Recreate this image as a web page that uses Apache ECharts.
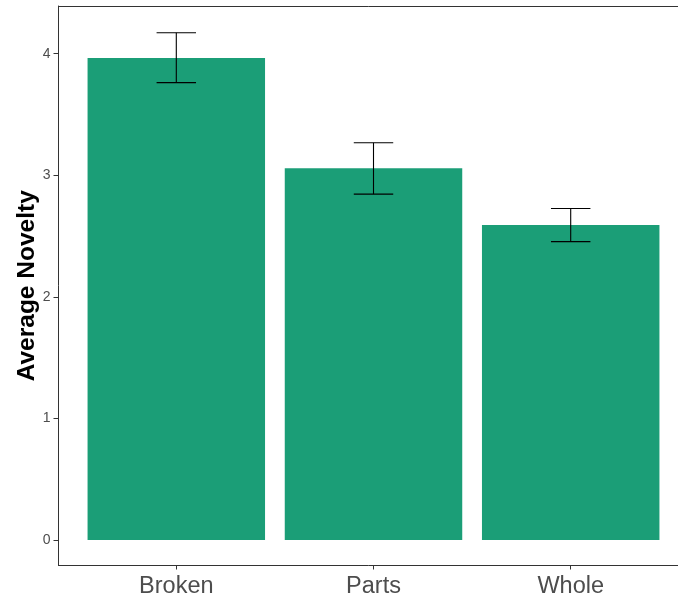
<!DOCTYPE html>
<html>
<head>
<meta charset="utf-8">
<script src="https://cdn.jsdelivr.net/npm/echarts@6/dist/echarts.min.js"></script>
<style>
  html, body { margin: 0; padding: 0; background: #fff; }
  #chart { width: 678px; height: 599px; }
</style>
</head>
<body>
<div id="chart"></div>
<script>
// Groups and their mean novelty scores with error-bar bounds
const categories = ['Broken', 'Parts', 'Whole'];
const meanNovelty = [3.964, 3.057, 2.590];
const lowerBound = [3.762, 2.845, 2.454];
const upperBound = [4.172, 3.267, 2.727];
const yTicks = [0, 1, 2, 3, 4];

const BAR_COLOR = '#1B9E77';
const AXIS_COLOR = '#333333';
const LABEL_COLOR = '#4D4D4D';
const FONT = '"Liberation Sans", Arial, sans-serif';

const errorData = categories.map((c, i) => [i, lowerBound[i], upperBound[i]]);

const chart = echarts.init(document.getElementById('chart'), null, { renderer: 'canvas' });

chart.setOption({
  animation: false,
  backgroundColor: '#ffffff',
  grid: [
    // plotting area (three equal category bands)
    { left: 77.7, right: 8.7, top: 6, bottom: 33.5, outerBoundsMode: 'none', containLabel: false },
    // panel frame lines
    { left: 58.5, right: 0, top: 6, bottom: 33.5, outerBoundsMode: 'none', containLabel: false }
  ],
  xAxis: [
    {
      type: 'category',
      gridIndex: 0,
      data: categories,
      axisLine: { show: false, onZero: false },
      axisTick: { show: true, alignWithLabel: true, length: 4, lineStyle: { color: AXIS_COLOR, width: 1 } },
      axisLabel: { color: LABEL_COLOR, fontSize: 23.5, fontFamily: FONT, margin: 9 },
      splitLine: { show: false }
    },
    {
      type: 'value', gridIndex: 1, position: 'bottom', min: 0, max: 1,
      axisLine: { show: true, onZero: false, lineStyle: { color: AXIS_COLOR, width: 1 } },
      axisTick: { show: false }, axisLabel: { show: false }, splitLine: { show: false }
    },
    {
      type: 'value', gridIndex: 1, position: 'top', min: 0, max: 1,
      axisLine: { show: true, onZero: false, lineStyle: { color: AXIS_COLOR, width: 1 } },
      axisTick: { show: false }, axisLabel: { show: false }, splitLine: { show: false }
    }
  ],
  yAxis: [
    {
      type: 'value',
      gridIndex: 0,
      min: -0.2097,
      max: 4.392,
      offset: 19.2,
      name: 'Average Novelty',
      nameLocation: 'middle',
      nameRotate: 90,
      nameGap: 19,
      nameMoveOverlap: false,
      nameTextStyle: { color: '#000000', fontSize: 24.5, fontWeight: 'bold', fontFamily: FONT },
      axisLine: { show: true, onZero: false, lineStyle: { color: AXIS_COLOR, width: 1 } },
      axisTick: { show: true, length: 5, customValues: yTicks, lineStyle: { color: AXIS_COLOR, width: 1 } },
      axisLabel: { color: LABEL_COLOR, fontSize: 14, fontFamily: FONT, margin: 8, customValues: yTicks },
      splitLine: { show: false }
    },
    {
      type: 'value', gridIndex: 1, min: 0, max: 1, show: false
    }
  ],
  series: [
    {
      type: 'bar',
      xAxisIndex: 0,
      yAxisIndex: 0,
      data: meanNovelty,
      barWidth: '90%',
      itemStyle: { color: BAR_COLOR },
      z: 2
    },
    {
      type: 'custom',
      xAxisIndex: 0,
      yAxisIndex: 0,
      data: errorData,
      z: 3,
      renderItem: function (params, api) {
        const idx = api.value(0);
        const lo = api.coord([idx, api.value(1)]);
        const hi = api.coord([idx, api.value(2)]);
        const half = api.size([1, 0])[0] * 0.1;
        const style = { stroke: '#000000', lineWidth: 1.1, fill: null };
        return {
          type: 'group',
          children: [
            { type: 'line', shape: { x1: hi[0], y1: hi[1], x2: lo[0], y2: lo[1] }, style: style },
            { type: 'line', shape: { x1: hi[0] - half, y1: hi[1], x2: hi[0] + half, y2: hi[1] }, style: style },
            { type: 'line', shape: { x1: lo[0] - half, y1: lo[1], x2: lo[0] + half, y2: lo[1] }, style: style }
          ]
        };
      }
    }
  ]
});
</script>
</body>
</html>
